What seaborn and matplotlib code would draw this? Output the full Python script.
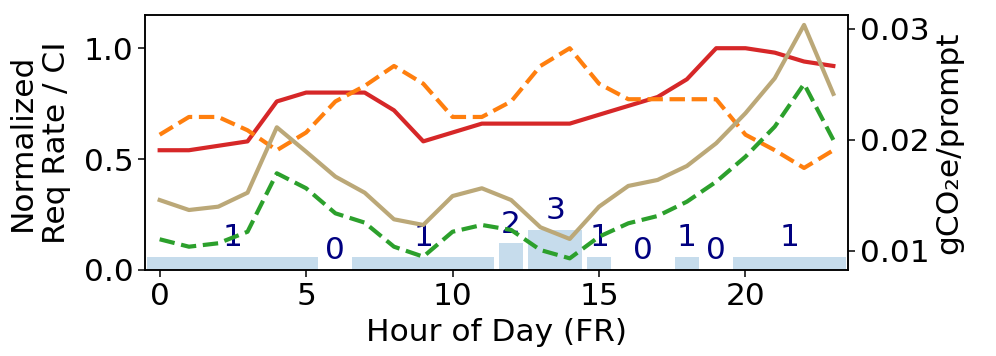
import matplotlib
matplotlib.use("Agg")
import matplotlib.pyplot as plt
import seaborn as sns
import numpy as np

hours = list(range(24))
req_rate = [0.54, 0.54, 0.56, 0.58, 0.76, 0.80, 0.80, 0.80, 0.72, 0.58, 0.62, 0.66,
            0.66, 0.66, 0.66, 0.70, 0.74, 0.78, 0.86, 1.00, 1.00, 0.98, 0.94, 0.92]
carbon_int = [0.61, 0.69, 0.69, 0.63, 0.54, 0.62, 0.76, 0.83, 0.92, 0.84, 0.69, 0.69,
              0.76, 0.92, 1.00, 0.84, 0.77, 0.77, 0.77, 0.77, 0.61, 0.54, 0.46, 0.54]
gco2_a = [0.01457, 0.01367, 0.01397, 0.01523, 0.02113, 0.01893, 0.01668, 0.01523,
          0.01283, 0.01232, 0.01493, 0.01563, 0.01457, 0.01211, 0.01106, 0.01397,
          0.01584, 0.01638, 0.01764, 0.01969, 0.02240, 0.02555, 0.03036, 0.02414]
gco2_b = [0.01103, 0.01036, 0.01067, 0.01171, 0.01698, 0.01563, 0.01337, 0.01253,
          0.01036, 0.00946, 0.01171, 0.01232, 0.01187, 0.01006, 0.00931, 0.01126,
          0.01247, 0.01313, 0.01442, 0.01622, 0.01848, 0.02119, 0.02504, 0.01999]

# segments of constant count: (start hour, end hour, count)
seg_start = [0, 6, 7, 12, 13, 15, 16, 18, 19, 20]
seg_end = [5, 6, 11, 12, 14, 15, 17, 18, 19, 23]
seg_count = [1, 0, 1, 2, 3, 1, 0, 1, 0, 1]
bar_unit = 0.06

FS = 22.5
plt.rcParams['font.family'] = ['DejaVu Sans']
plt.rcParams['axes.linewidth'] = 1.1

fig = plt.figure(figsize=(9.96, 3.56), dpi=100)
ax = fig.add_axes([0.1456, 0.2416, 0.8514 - 0.1456, 0.958 - 0.2416])
ax2 = ax.twinx()

centers = [(s + e) / 2 for s, e in zip(seg_start, seg_end)]
widths = [(e - s) + 0.84 for s, e in zip(seg_start, seg_end)]
heights = [c * bar_unit for c in seg_count]
ax.bar(centers, heights, width=widths, color='tab:blue', alpha=0.25, linewidth=0, zorder=1)
for cx, h, c in zip(centers, heights, seg_count):
    ax.text(cx, h + 0.048, str(c), ha='center', va='baseline', color='navy', fontsize=FS, zorder=2)

sns.lineplot(x=hours, y=req_rate, ax=ax, color='#d62728', lw=3, zorder=3)
sns.lineplot(x=hours, y=carbon_int, ax=ax, color='#ff7f0e', lw=3, linestyle='--', zorder=3)
sns.lineplot(x=hours, y=gco2_a, ax=ax2, color='#bba878', lw=3)
sns.lineplot(x=hours, y=gco2_b, ax=ax2, color='#2ca02c', lw=3, linestyle='--')

ax.set_xlim(-0.5, 23.5)
ax.set_ylim(0, 1.15)
ax2.set_ylim(0.00826, 0.03126)
ax.set_xticks([0, 5, 10, 15, 20])
ax.set_yticks([0.0, 0.5, 1.0])
ax2.set_yticks([0.01, 0.02, 0.03])
ax.set_yticklabels(['0.0', '0.5', '1.0'])
ax2.set_yticklabels(['0.01', '0.02', '0.03'])

for a in (ax, ax2):
    a.tick_params(labelsize=FS, length=4.8, width=1.1)

ax.set_xlabel('Hour of Day (FR)', fontsize=FS, labelpad=5.5)
ax.set_ylabel('Normalized\nReq Rate / CI', fontsize=FS, labelpad=9.5)
ax2.set_ylabel('gCO\u2082e/prompt', fontsize=FS)

fig.savefig('out.png', dpi=100)
